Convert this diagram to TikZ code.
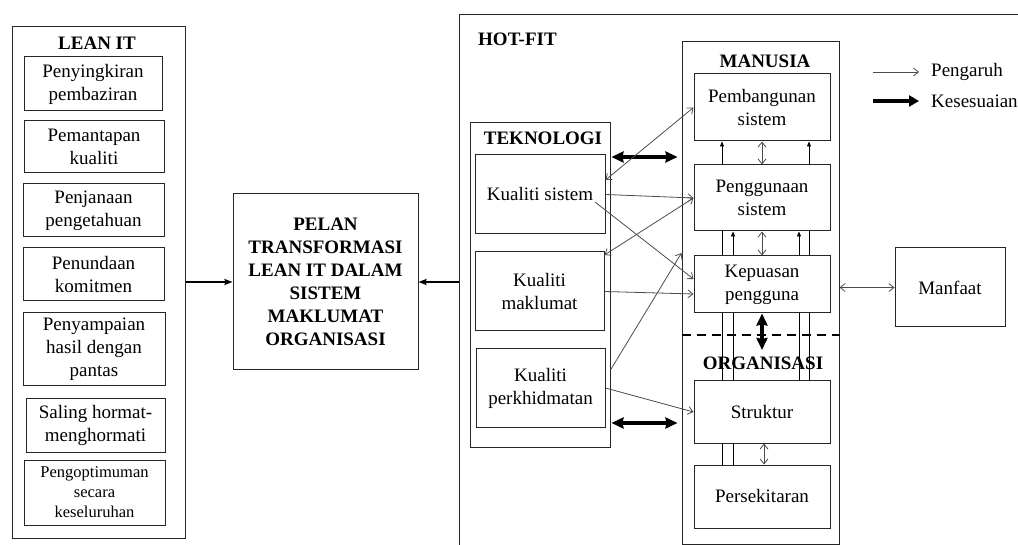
\documentclass[tikz,border=0pt]{standalone}
\usepackage{fontspec}
\setmainfont{Liberation Serif}
\usetikzlibrary{arrows.meta,backgrounds}
\begin{document}
\begin{tikzpicture}[x=1pt,y=-1pt,
  box/.style={draw=black!85, line width=1pt, fill=white, inner sep=0pt, align=center, font=\fontsize{19}{23}\selectfont},
  container/.style={draw=black!85, line width=1pt, inner sep=0pt},
  title/.style={font=\bfseries\fontsize{19}{23}\selectfont, inner sep=0pt},
  thinline/.style={draw=black!70, line width=0.8pt},
  infl/.style={thinline, -{Straight Barb[length=5pt,width=8pt]}},
  infltwo/.style={thinline, {Straight Barb[length=5pt,width=8pt]}-{Straight Barb[length=5pt,width=8pt]}},
  vline/.style={draw=black, line width=0.8pt, -{Triangle[length=5pt,width=4pt]}},
  fittwo/.style={line width=3.5pt, {Stealth[length=12pt,width=11pt,inset=1pt]}-{Stealth[length=12pt,width=11pt,inset=1pt]}},
  mainarr/.style={line width=2pt, -{Stealth[length=8pt,width=6pt,inset=1pt]}},
  legthick/.style={line width=4pt, -{Triangle[length=10pt,width=11pt]}}
]
\useasboundingbox (0,0) rectangle (1018,545);
\clip (0,0) rectangle (1018,545);

% LEAN IT
\node[container, minimum width=173pt, minimum height=511pt] (lean) at (98.5,282.5) {};
\node[title] (leant) at (97,43) {LEAN IT};
\node[box, minimum width=138pt, minimum height=54pt] (l1) at (93,84) {Penyingkiran\\pembaziran};
\node[box, minimum width=140pt, minimum height=52pt] (l2) at (94,147) {Pemantapan\\kualiti};
\node[box, minimum width=141pt, minimum height=53pt] (l3) at (93.5,210.5) {Penjanaan\\pengetahuan};
\node[box, minimum width=141pt, minimum height=53pt] (l4) at (93.5,274.5) {Penundaan\\komitmen};
\node[box, minimum width=142pt, minimum height=73pt] (l5) at (94,349.5) {Penyampaian\\hasil dengan\\pantas};
\node[box, minimum width=139pt, minimum height=53pt] (l6) at (95.5,425.5) {Saling hormat-\\menghormati};
\node[box, minimum width=141pt, minimum height=65pt, font=\fontsize{16.5}{20}\selectfont] (l7) at (94.5,492.5) {Pengoptimuman\\secara\\keseluruhan};

% PELAN
\node[box, font=\bfseries\fontsize{19}{23}\selectfont, minimum width=185pt, minimum height=176pt] (pelan) at (325.5,282) {PELAN\\TRANSFORMASI\\LEAN IT DALAM\\SISTEM\\MAKLUMAT\\ORGANISASI};

% HOT-FIT
\node[container, minimum width=600pt, minimum height=600pt, anchor=north west] (hotfit) at (459,14) {};
\node[title, anchor=west] (hott) at (478,39) {HOT-FIT};

% TEKNOLOGI
\node[container, minimum width=140pt, minimum height=324pt] (tek) at (540,285) {};
\node[title] (tekt) at (543,138) {TEKNOLOGI};
\node[box, minimum width=130pt, minimum height=79pt] (ks) at (540,194.5) {Kualiti sistem};
\node[box, minimum width=129pt, minimum height=79pt] (km) at (539.5,291.5) {Kualiti\\maklumat};
\node[box, minimum width=129pt, minimum height=78pt] (kp) at (540.5,388) {Kualiti\\perkhidmatan};

% MANUSIA / ORGANISASI
\node[container, minimum width=157pt, minimum height=502pt] (man) at (760.5,293) {};
\node[title] (mant) at (765,61) {MANUSIA};
\node[box, minimum width=136pt, minimum height=67pt] (pb) at (762,107.5) {Pembangunan\\sistem};
\node[box, minimum width=136pt, minimum height=66pt] (pg) at (762,198) {Penggunaan\\sistem};
\node[box, minimum width=136pt, minimum height=57pt] (kep) at (762,284.5) {Kepuasan\\pengguna};
\node[title] (orgt) at (763,363) {ORGANISASI};
\node[box, minimum width=136pt, minimum height=62pt] (st) at (762,412) {Struktur};
\node[box, minimum width=136pt, minimum height=63pt] (ps) at (762,496.5) {Persekitaran};

% Manfaat
\node[box, minimum width=110pt, minimum height=79pt] (mf) at (950,287.5) {Manfaat};

% Legend
\node[anchor=west, inner sep=0pt, font=\fontsize{19}{23}\selectfont] (lg1) at (931,72) {Pengaruh};
\node[anchor=west, inner sep=0pt, font=\fontsize{19}{23}\selectfont] (lg2) at (931,101) {Kesesuaian};
\coordinate (lg1s) at (873,72);
\coordinate (lg2s) at (873,101);
\draw[infl, shorten >=12pt] (lg1s) -- (lg1.west);
\draw[legthick, shorten >=12pt] (lg2s) -- (lg2.west);

% helper coordinates
\coordinate (h157) at (0,157);
\coordinate (h423) at (0,423);
\coordinate (h180) at (0,180);
\coordinate (h255) at (0,255);
\coordinate (h279) at (0,279);
\coordinate (h294) at (0,294);
\coordinate (h370) at (0,370);
\coordinate (h253) at (0,253);
\coordinate (h335) at (0,335);
\coordinate (x722) at (722,0);
\coordinate (x733) at (733,0);
\coordinate (x799) at (799,0);
\coordinate (x809) at (809,0);
\coordinate (x764) at (764,0);
\coordinate (kb) at (762,350);
\coordinate (kst) at (595,202);

% main arrows
\draw[mainarr] (lean.east |- pelan.west) -- (pelan.west);
\draw[mainarr] (hotfit.west |- pelan.east) -- (pelan.east);

% fit arrows
\draw[fittwo, shorten <=1pt, shorten >=4pt] (tek.east |- h157) -- (man.west |- h157);
\draw[fittwo, shorten <=1pt, shorten >=4pt] (tek.east |- h423) -- (man.west |- h423);
\draw[fittwo] (kep.south) -- (kb);

% influence arrows
\draw[infltwo] (ks.east |- h180) -- (pb.west);
\draw[infl] (ks.east) -- (pg.west);
\draw[infl] (kst) -- (kep.west |- h279);
\draw[infltwo] (km.east |- h255) -- (pg.west);
\draw[infl] (km.east) -- (kep.west |- h294);
\draw[infl] (tek.east |- h370) -- (man.west |- h253);
\draw[infl] (kp.east) -- (st.west);
\draw[infltwo] (man.east |- mf.west) -- (mf.west);

% inner double arrows
\draw[infltwo] (pb.south) -- (pg.north);
\draw[infltwo] (pg.south) -- (kep.north);
\draw[infltwo] (st.south -| x764) -- (ps.north -| x764);

% dashed separator
\draw[line width=1.5pt, dash pattern=on 9pt off 6pt] (man.west |- h335) -- (man.east |- h335);

% vertical organisation lines
\begin{scope}[on background layer]
\draw[vline] (ps.north -| x722) -- (pb.south -| x722);
\draw[vline] (ps.north -| x733) -- (pg.south -| x733);
\draw[vline] (st.north -| x799) -- (pg.south -| x799);
\draw[vline] (st.north -| x809) -- (pb.south -| x809);
\end{scope}
\end{tikzpicture}
\end{document}
